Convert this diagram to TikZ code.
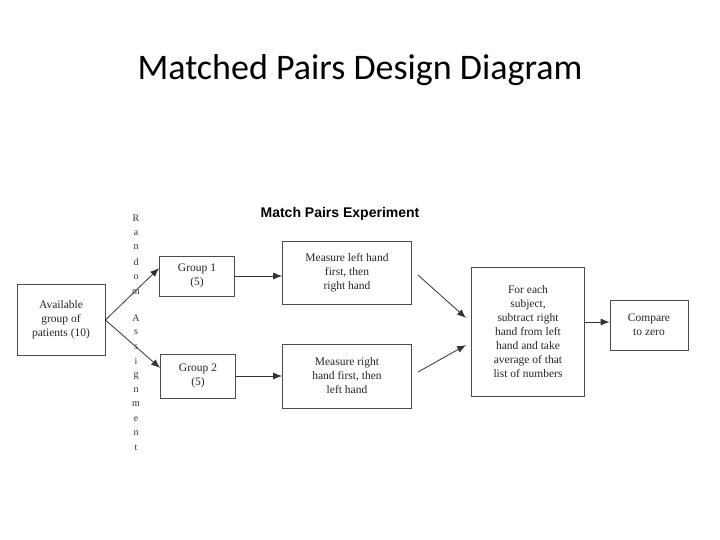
\documentclass[tikz,border=0pt]{standalone}
\usepackage{fontspec}
\setmainfont{Liberation Serif}
\newfontfamily\titlefont{Carlito}
\newfontfamily\arialfont{Liberation Sans}
\usetikzlibrary{arrows.meta}
\begin{document}
\begin{tikzpicture}[x=1pt,y=-1pt,
  box/.style={draw=black!70,line width=0.8pt,align=center,inner sep=0pt,font=\fontsize{11.5}{14}\selectfont,text=black!85},
  arr/.style={-{Latex[length=9pt,width=7pt]},line width=0.8pt,black!80}]
\useasboundingbox (0,0) rectangle (720,539);
\fill[white] (0,0) rectangle (720,539);
\node[font=\titlefont\fontsize{36}{40}\selectfont] (title) at (360,70) {Matched Pairs Design Diagram};
\node[font=\arialfont\bfseries\fontsize{14}{16}\selectfont] (sub) at (340,214) {Match Pairs Experiment};
\node[box,minimum width=88,minimum height=71] (avail) at (61,320) {Available\\group of\\patients (10)};
\node[box,minimum width=75,minimum height=40] (g1) at (197,276) {Group 1\\(5)};
\node[box,minimum width=75,minimum height=44] (g2) at (198,376) {Group 2\\(5)};
\node[box,minimum width=129,minimum height=63] (ml) at (347,273) {Measure left hand\\first, then\\right hand};
\node[box,minimum width=129,minimum height=64] (mr) at (347,376) {Measure right\\hand first, then\\left hand};
\node[box,minimum width=113,minimum height=129] (fe) at (528,332) {For each\\subject,\\subtract right\\hand from left\\hand and take\\average of that\\list of numbers};
\node[box,minimum width=78,minimum height=50] (cz) at (649,325) {Compare\\to zero};
\foreach \c [count=\i from 0] in {R,a,n,d,o,m}
  \node[font=\fontsize{10}{10}\selectfont,text=black!80] (r\i) at (136,218+14.8*\i) {\c};
\foreach \c [count=\i from 0] in {A,s,s,i,g,n,m,e,n,t}
  \node[font=\fontsize{10}{10}\selectfont,text=black!80] (s\i) at (136,318+14.4*\i) {\c};
\coordinate (a1) at (418,275); \coordinate (b1) at (466,318);
\coordinate (a2) at (418,372); \coordinate (b2) at (466,345);
\draw[arr] (avail.east) -- (g1.west |- 0,268);
\draw[arr] (avail.east) -- (g2.west |- 0,368);
\draw[arr] (g1.east) -- (ml.west |- g1.east);
\draw[arr] (g2.east) -- (mr.west |- g2.east);
\draw[arr] (a1) -- (b1);
\draw[arr] (a2) -- (b2);
\draw[arr] (fe.east |- 0,322) -- (cz.west |- 0,322);
\end{tikzpicture}
\end{document}
